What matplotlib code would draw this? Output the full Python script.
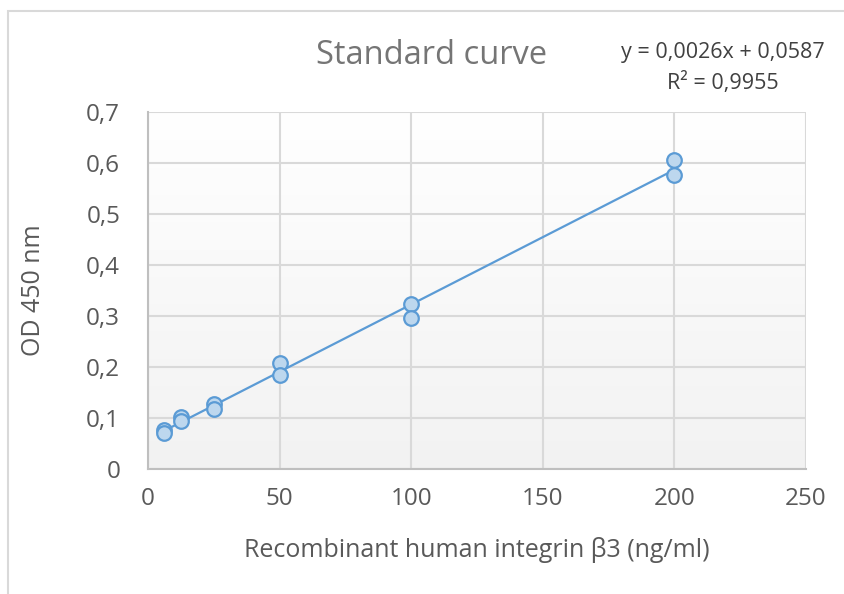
import numpy as np
import matplotlib.pyplot as plt
from matplotlib.patches import Rectangle
from matplotlib.colors import LinearSegmentedColormap

plt.rcParams['font.family'] = ['Open Sans', 'DejaVu Sans']

# standard concentrations (ng/ml) and duplicate OD readings
conc = [6.25, 6.25, 12.5, 12.5, 25, 25, 50, 50, 100, 100, 200, 200]
od = [0.076, 0.071, 0.102, 0.094, 0.127, 0.118, 0.208, 0.184, 0.324, 0.296, 0.606, 0.577]
xticks = [0, 50, 100, 150, 200, 250]
yticks = [0, 0.1, 0.2, 0.3, 0.4, 0.5, 0.6, 0.7]
eq_text = 'y = 0,0026x + 0,0587\nR² = 0,9955'

fig = plt.figure(figsize=(8.44, 5.94), dpi=100)
ax = fig.add_axes([148/844, 1 - 469/594, (806 - 148)/844, (469 - 112)/594])

# outer chart frame (cropped on right/bottom)
fig.patches.append(Rectangle((8/844, -0.05), 1.2, (594 - 11)/594 + 0.05, transform=fig.transFigure,
                             fill=False, ec='#d9d9d9', lw=1.5))

# gradient plot background
grad = np.linspace(0, 1, 256).reshape(-1, 1)
ax.imshow(grad, extent=[0, 1, 0, 1], transform=ax.transAxes, aspect='auto',
          cmap=LinearSegmentedColormap.from_list('g', ['#f2f2f2', '#ffffff']),
          origin='lower', zorder=0)

xs = np.array(conc); ys = np.array(od)
k, b = np.polyfit(xs, ys, 1)
xl = np.array([xs.min(), xs.max()])
ax.plot(xl, k*xl + b, color='#5b9bd5', lw=1.6, zorder=3)
ax.plot(conc, od, 'o', ms=10.5, mfc='#bdd7ee', mec='#5b9bd5', mew=1.6, zorder=4)

ax.set_xlim(0, 250); ax.set_ylim(0, 0.7)
ax.set_xticks(xticks); ax.set_yticks(yticks)
ax.set_xticklabels([str(v) for v in xticks])
ax.set_yticklabels(['0' if v == 0 else f'{v:.1f}'.replace('.', ',') for v in yticks])
ax.tick_params(length=0, labelsize=17.5, labelcolor='#595959')
ax.tick_params(axis='x', pad=13)
ax.tick_params(axis='y', pad=20)
ax.grid(True, color='#d9d9d9', lw=1.5)
ax.set_axisbelow(True)
for s in ['top', 'right']:
    ax.spines[s].set_visible(False)
for s in ['left', 'bottom']:
    ax.spines[s].set_color('#bfbfbf'); ax.spines[s].set_linewidth(1.5)

fig.text(432/844, 1 - 56/594, 'Standard curve', ha='center', va='center', fontsize=23.5, color='#757575')
fig.text(723/844, 1 - 68/594, eq_text, ha='center', va='center', fontsize=15.5,
         color='#404040', linespacing=1.55)
fig.text(477/844, 1 - 550/594, 'Recombinant human integrin β3 (ng/ml)', ha='center', va='center',
         fontsize=18, color='#595959')
fig.text(34/844, 1 - 290/594, 'OD 450 nm', ha='center', va='center', rotation=90,
         fontsize=18, color='#595959')

fig.savefig('out.png', dpi=100)
